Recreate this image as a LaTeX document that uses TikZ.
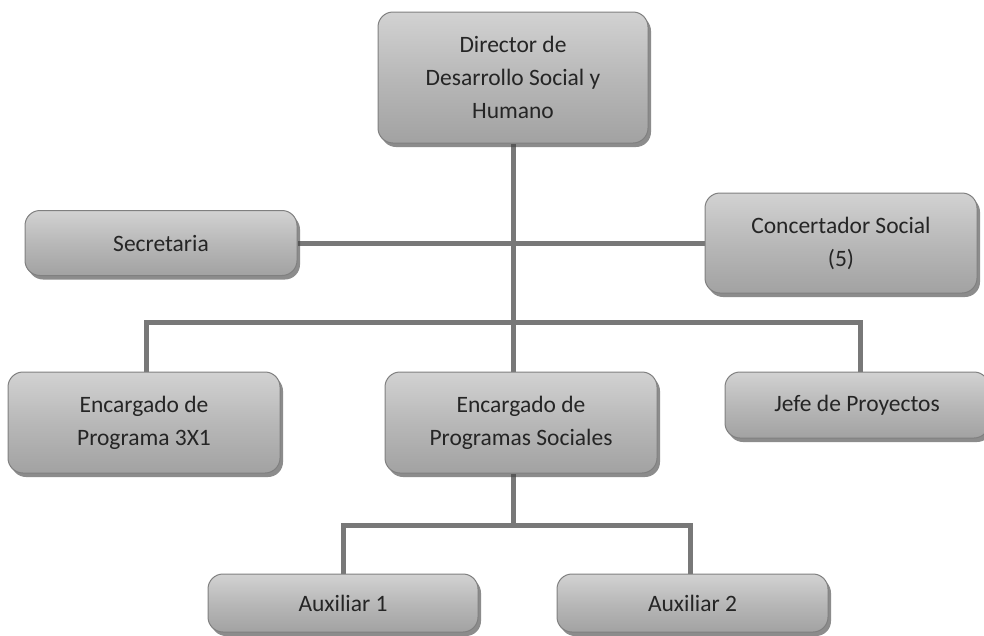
\documentclass[tikz,border=0pt]{standalone}
\usepackage{fontspec}
\setmainfont{Carlito}
\usetikzlibrary{shadows,backgrounds}
\definecolor{linegray}{HTML}{787878}
\definecolor{boxtop}{HTML}{D2D2D2}
\definecolor{boxmid}{HTML}{B8B8B8}
\definecolor{boxbot}{HTML}{A2A2A2}
\definecolor{boxedge}{HTML}{808080}
\definecolor{txt}{HTML}{252525}
\tikzset{
  orgbox/.style={rounded corners=15pt, draw=boxedge, line width=1pt,
    top color=boxtop, bottom color=boxbot, middle color=boxmid,
    drop shadow={shadow xshift=3pt, shadow yshift=-4pt, fill=black!75, opacity=0.6},
    align=center, text=txt, font=\fontsize{23.5}{33}\selectfont,
    inner sep=0pt},
  conn/.style={draw=linegray, line width=5pt}
}
\begin{document}
\begin{tikzpicture}[x=1pt,y=-1pt]
\clip (0,0) rectangle (984,635);
% boxes
\node[orgbox, minimum width=270pt, minimum height=131pt] (dir) at (513,77.5) {Director de\\Desarrollo Social y\\Humano};
\node[orgbox, minimum width=272pt, minimum height=65pt] (sec) at (161,243) {Secretaria};
\node[orgbox, minimum width=272pt, minimum height=100pt] (con) at (841,243) {Concertador Social\\(5)};
\node[orgbox, minimum width=272pt, minimum height=101pt] (e3) at (144,422.5) {Encargado de\\Programa 3X1};
\node[orgbox, minimum width=272pt, minimum height=101pt] (eps) at (521,422.5) {Encargado de\\Programas Sociales};
\node[orgbox, minimum width=264pt, minimum height=66pt] (jefe) at (857,405) {Jefe de Proyectos};
\node[orgbox, minimum width=270pt, minimum height=58pt] (a1) at (343,603) {Auxiliar 1};
\node[orgbox, minimum width=271pt, minimum height=58pt] (a2) at (692.5,603) {Auxiliar 2};
% junction and drop coordinates
\coordinate (j1) at (513,322);
\coordinate (j2) at (513,525);
\coordinate (x3) at (146,0);
\coordinate (xj) at (860,0);
\coordinate (xa2) at (690,0);
% connectors behind the boxes
\begin{scope}[on background layer]
\fill[white] (0,0) rectangle (984,635);
\draw[conn] (dir.south) -- (dir.south |- eps.north);
\draw[conn] (sec.east) -- (con.west);
\draw[conn] (e3.north -| x3) |- (j1) -| (jefe.north -| xj);
\draw[conn] (eps.south -| j2) -- (j2);
\draw[conn] (a1.north) |- (j2) -| (a2.north -| xa2);
\end{scope}
\end{tikzpicture}
\end{document}
